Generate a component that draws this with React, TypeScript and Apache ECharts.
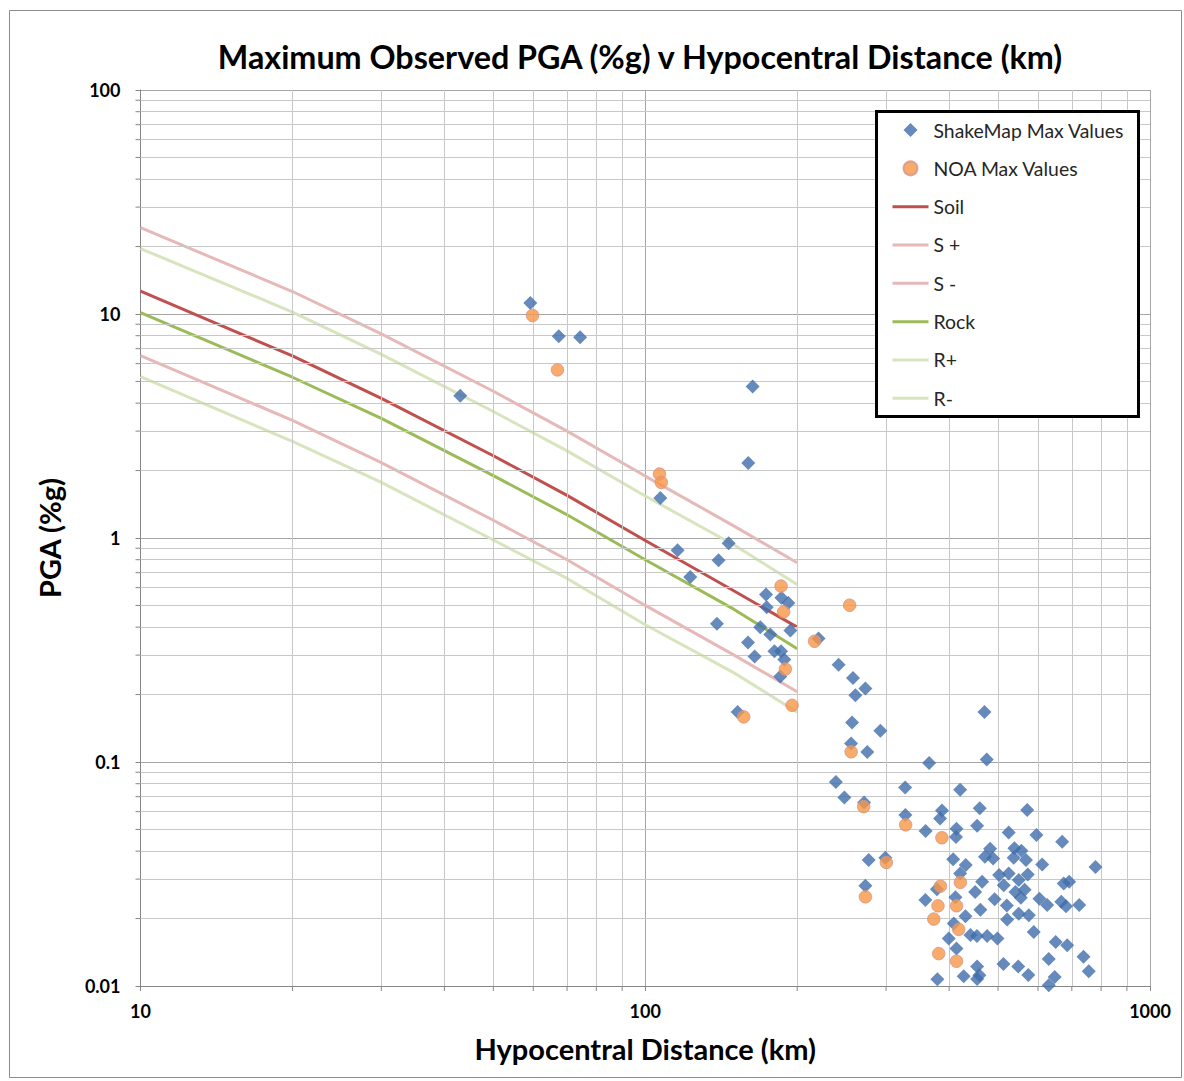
import React, { useEffect, useRef } from 'react';
import * as echarts from 'echarts';

// ---- Data ----
const shakeMapDistance = [
  43.0, 59.2, 67.4, 74.3, 163.2, 160, 107.1, 115.9, 146.3, 139.7, 122.8, 173.5, 174, 186.1, 192.1,
  138.7, 169.0, 176.9, 193.9, 159.8, 164.7, 180.3, 185.8, 188.6, 185.2, 152.4, 220.5, 241.6, 258.0,
  273.0, 260.8, 256.9, 292.3, 255.7, 275.4, 238.6, 365.1, 474.9, 248.0, 271.4, 327.2, 420.6, 327.6,
  387.2, 383.8, 459.9, 454.5, 359.3, 413.6, 412.7, 277.1, 299.0, 407.4, 431.5, 471.0, 420.6, 465.0,
  273.0, 450.3, 378.2, 358.9, 411.7, 461.3, 430.9, 408.5, 399.3, 440.8, 454.1, 475.7, 498.6, 413.6,
  454.5, 459.2, 454.5, 427.5, 379.1, 469.9, 571.1, 524.9, 595.7, 669.9, 482.3, 538.7, 556.2, 488.9,
  537.0, 567.9, 611.5, 779.8, 502.5, 524.9, 572.6, 549.5, 513.1, 541.2, 564.5, 674.7, 691.6, 492.3,
  520.4, 554.7, 603.9, 625.5, 667.2, 681.6, 724.0, 521.2, 549.5, 575.3, 588.5, 650.4, 685.4, 738.3,
  630.1, 512.4, 548.2, 574.0, 756.3, 647.4, 630.1,
];
const shakeMapPGA = [
  4.32, 11.2, 7.96, 7.88, 4.75, 2.16, 1.51, 0.881, 0.947, 0.795, 0.669, 0.559, 0.491, 0.541, 0.512,
  0.414, 0.400, 0.371, 0.386, 0.342, 0.296, 0.312, 0.312, 0.287, 0.241, 0.167, 0.356, 0.272, 0.237,
  0.2127, 0.1985, 0.150, 0.1379, 0.121, 0.1108, 0.0814, 0.099, 0.1026, 0.0694, 0.0659, 0.0769, 0.0751, 0.0580,
  0.0607, 0.0559, 0.0622, 0.0519, 0.0492, 0.0504, 0.0462, 0.0365, 0.0374, 0.0368, 0.0347, 0.0378, 0.0318, 0.0292,
  0.0280, 0.0263, 0.0270, 0.0242, 0.0249, 0.0219, 0.0205, 0.0190, 0.0163, 0.0169, 0.0167, 0.0167, 0.0163, 0.01469,
  0.01222, 0.01116, 0.01075, 0.01105, 0.01071, 0.167, 0.0611, 0.0484, 0.0472, 0.0440, 0.0410, 0.0412, 0.0402, 0.0371,
  0.0374, 0.0365, 0.0349, 0.0340, 0.0313, 0.0318, 0.0315, 0.0297, 0.0282, 0.0263, 0.0269, 0.0287, 0.0292, 0.0244,
  0.0229, 0.0248, 0.0245, 0.0230, 0.0238, 0.0227, 0.0230, 0.0198, 0.0210, 0.0207, 0.0174, 0.0157, 0.0152, 0.0135,
  0.0132, 0.01254, 0.01222, 0.0112, 0.01163, 0.01097, 0.01007,
];
const noaDistance = [
  59.8, 67.0, 106.7, 107.6, 185.8, 188.0, 189.5, 195.4, 156.7, 216.5, 254, 255.8, 270.8, 328, 387,
  300.4, 421, 384.4, 273, 380.2, 413.7, 372.9, 417.8, 381.4, 413.7,
];
const noaPGA = [
  9.85, 5.63, 1.93, 1.77, 0.61, 0.468, 0.26, 0.179, 0.159, 0.346, 0.501, 0.111, 0.0632, 0.0524, 0.0459,
  0.0356, 0.029, 0.0279, 0.025, 0.0228, 0.0228, 0.0199, 0.0179, 0.01395, 0.0129,
];
const modelDistance = [10, 20, 30, 50, 70, 100, 150, 200];
const soil = [12.65, 6.5, 4.2, 2.33, 1.55, 0.974, 0.58, 0.40];
const soilPlus = [24.3, 12.6, 8.15, 4.52, 3.0, 1.89, 1.13, 0.775];
const soilMinus = [6.52, 3.35, 2.17, 1.2, 0.8, 0.5, 0.3, 0.206];
const rock = [10.15, 5.22, 3.42, 1.9, 1.27, 0.8, 0.48, 0.32];
const rockPlus = [19.6, 10.2, 6.6, 3.67, 2.45, 1.54, 0.93, 0.62];
const rockMinus = [5.25, 2.7, 1.77, 0.98, 0.66, 0.41, 0.25, 0.167];

const xTickLabels: Record<string, string> = { '10': '10', '100': '100', '1000': '1000' };
const yTickLabels: Record<string, string> = { '0.01': '0.01', '0.1': '0.1', '1': '1', '10': '10', '100': '100' };
const xMinorGrid = [20, 30, 40, 50, 60, 70, 80, 90, 200, 300, 400, 500, 600, 700, 800, 900];
const yMinorGrid = [
  0.02, 0.03, 0.04, 0.05, 0.06, 0.07, 0.08, 0.09, 0.2, 0.3, 0.4, 0.5, 0.6, 0.7, 0.8, 0.9,
  2, 3, 4, 5, 6, 7, 8, 9, 20, 30, 40, 50, 60, 70, 80, 90,
];
const X_MIN = 10;
const Y_MIN = 0.01;

const seriesNames = ['ShakeMap Max Values', 'NOA Max Values', 'Soil', 'S +', 'S -', 'Rock', 'R+', 'R-'];

const FONT = 'Lato, "Open Sans", sans-serif';
const AXIS_COLOR = '#868686';

const zip = (xs: number[], ys: number[]) => xs.map((x, i) => [x, ys[i]]);

function lineSeries(name: string, values: number[], color: string) {
  return {
    name,
    type: 'line',
    data: zip(modelDistance, values),
    symbol: 'none',
    showSymbol: false,
    lineStyle: { color, width: 3 },
    itemStyle: { color },
    emphasis: { disabled: true },
    z: 3,
  };
}

function labelFor(map: Record<string, string>, v: number) {
  const key = String(Number(v.toPrecision(6)));
  return map[key] ?? '';
}

// minor tick marks drawn outside the axes, positioned through the axis scales
function tickSeries(kind: 'x' | 'y') {
  const data = kind === 'x' ? xMinorGrid.map((v) => [v, Y_MIN]) : yMinorGrid.map((v) => [X_MIN, v]);
  return {
    name: kind + '-minor-ticks',
    type: 'custom',
    data,
    clip: false,
    silent: true,
    z: 4,
    renderItem: (_params: any, api: any) => {
      const p = api.coord([api.value(0), api.value(1)]);
      const shape =
        kind === 'x'
          ? { x1: p[0], y1: p[1], x2: p[0], y2: p[1] + 5 }
          : { x1: p[0] - 5, y1: p[1], x2: p[0], y2: p[1] };
      return { type: 'line', shape, style: { stroke: AXIS_COLOR, lineWidth: 1 } };
    },
  };
}

export default function App() {
  const ref = useRef<HTMLDivElement>(null);
  useEffect(() => {
    document.body.style.margin = '0';
    const chart = echarts.init(ref.current!, null, { renderer: 'svg' });
    const legendData = seriesNames.map((name, i) => {
      if (i === 0) return { name, icon: 'path://M5,0L10,5L5,10L0,5Z' };
      if (i === 1) return { name, icon: 'circle' };
      return { name, itemStyle: { color: 'rgba(0,0,0,0)', borderWidth: 0, opacity: 0 } };
    });
    const option = {
      animation: false,
      backgroundColor: '#ffffff',
      textStyle: { fontFamily: FONT },
      title: {
        text: 'Maximum Observed PGA (%g) v Hypocentral Distance (km)',
        left: 635,
        top: 35,
        textAlign: 'center',
        textStyle: { fontFamily: FONT, fontSize: 32.3, fontWeight: 'bold', color: '#000' },
      },
      grid: { left: 140.5, right: 34, top: 90, bottom: 95, containLabel: false },
      legend: {
        data: legendData,
        orient: 'vertical',
        left: 891,
        top: 120,
        itemWidth: 36,
        itemHeight: 14,
        itemGap: 18.33,
        padding: 0,
        z: 10,
        selectedMode: false,
        lineStyle: { width: 3 },
        textStyle: { fontFamily: FONT, fontSize: 19.4, color: '#262626', lineHeight: 20 },
      },
      xAxis: {
        type: 'log',
        logBase: 10,
        min: X_MIN,
        max: 1000,
        name: 'Hypocentral Distance (km)',
        nameLocation: 'middle',
        nameGap: 48,
        nameTextStyle: { fontFamily: FONT, fontSize: 29, fontWeight: 'bold', color: '#000' },
        axisLine: { show: true, lineStyle: { color: AXIS_COLOR, width: 1 } },
        axisTick: { show: true, inside: false, length: 5, lineStyle: { color: AXIS_COLOR } },
        axisLabel: {
          formatter: (v: number) => labelFor(xTickLabels, v),
          fontFamily: FONT,
          fontSize: 18,
          fontWeight: 'bold',
          color: '#000',
          margin: 16,
          showMinLabel: true,
          showMaxLabel: true,
        },
        splitLine: { show: true, lineStyle: { color: '#A6A6A6', width: 1 } },
      },
      yAxis: {
        type: 'log',
        logBase: 10,
        min: Y_MIN,
        max: 100,
        name: 'PGA (%g)',
        nameLocation: 'middle',
        nameRotate: 90,
        nameGap: 77,
        nameTextStyle: { fontFamily: FONT, fontSize: 29, fontWeight: 'bold', color: '#000' },
        axisLine: { show: true, lineStyle: { color: AXIS_COLOR, width: 1 } },
        axisTick: { show: true, inside: false, length: 5, lineStyle: { color: AXIS_COLOR } },
        axisLabel: {
          formatter: (v: number) => labelFor(yTickLabels, v),
          fontFamily: FONT,
          fontSize: 18,
          fontWeight: 'bold',
          color: '#000',
          margin: 20,
          showMinLabel: true,
          showMaxLabel: true,
        },
        splitLine: { show: true, lineStyle: { color: '#A6A6A6', width: 1 } },
      },
      graphic: [
        {
          type: 'rect',
          silent: true,
          z: -10,
          shape: { x: 9.5, y: 10.5, width: 1172, height: 1067 },
          style: { fill: 'none', stroke: '#8C8C8C', lineWidth: 1 },
        },
        {
          type: 'rect',
          silent: true,
          z: 8,
          shape: { x: 876.5, y: 111.5, width: 262, height: 305 },
          style: { fill: '#ffffff', stroke: '#000000', lineWidth: 3 },
        },
      ],
      series: [
        {
          name: 'grid-minor',
          type: 'line',
          data: [],
          z: 1,
          silent: true,
          markLine: {
            silent: true,
            symbol: 'none',
            label: { show: false },
            animation: false,
            lineStyle: { color: '#C8C8C8', width: 1, type: 'solid' },
            emphasis: { disabled: true },
            data: [
              ...xMinorGrid.map((v) => ({ xAxis: v })),
              ...yMinorGrid.map((v) => ({ yAxis: v })),
            ],
          },
        },
        tickSeries('x'),
        tickSeries('y'),
        {
          name: 'ShakeMap Max Values',
          type: 'scatter',
          data: zip(shakeMapDistance, shakeMapPGA),
          symbol: 'diamond',
          symbolSize: 14,
          clip: false,
          itemStyle: { color: '#3F6DAA' },
          emphasis: { disabled: true },
          z: 5,
        },
        {
          name: 'NOA Max Values',
          type: 'scatter',
          data: zip(noaDistance, noaPGA),
          symbol: 'circle',
          symbolSize: 12.5,
          clip: false,
          itemStyle: { color: '#F79646', borderColor: '#D3958A', borderWidth: 1 },
          emphasis: { disabled: true },
          z: 6,
        },
        lineSeries('Soil', soil, '#C0504D'),
        lineSeries('S +', soilPlus, '#E6B9B8'),
        lineSeries('S -', soilMinus, '#E6B9B8'),
        lineSeries('Rock', rock, '#9BBB59'),
        lineSeries('R+', rockPlus, '#D7E4BD'),
        lineSeries('R-', rockMinus, '#D7E4BD'),
      ],
    };
    chart.setOption(option as any);
    return () => chart.dispose();
  }, []);
  return (
    <div
      ref={ref}
      style={{ position: 'absolute', left: 0, top: 0, width: 1184, height: 1081, background: '#fff' }}
    />
  );
}
